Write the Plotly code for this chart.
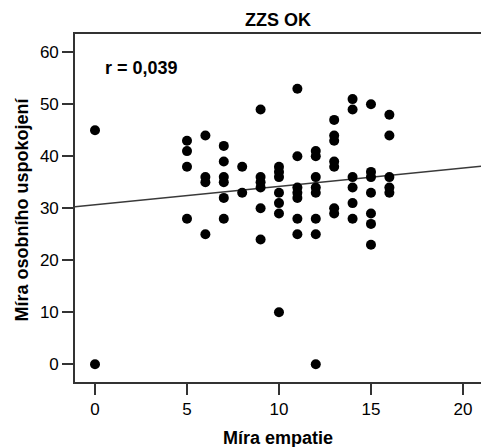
import plotly.graph_objects as go

# --- data ---
empathy = (
    [0, 0]
    + [5] * 4
    + [6] * 4
    + [7] * 6
    + [8] * 2
    + [9] * 6
    + [10] * 7
    + [11] * 7
    + [12] * 8
    + [13] * 7
    + [14] * 6
    + [15] * 7
    + [16] * 5
)
satisfaction = (
    [45, 0]
    + [43, 41, 38, 28]
    + [44, 36, 35, 25]
    + [42, 39, 36, 35, 32, 28]
    + [38, 33]
    + [49, 36, 35, 34, 30, 24]
    + [38, 37, 36, 33, 31, 29, 10]
    + [53, 40, 34, 33, 32, 28, 25]
    + [41, 40, 36, 34, 33, 28, 25, 0]
    + [47, 44, 43, 39, 38, 30, 29]
    + [51, 49, 36, 34, 31, 28]
    + [50, 37, 36, 33, 29, 27, 23]
    + [48, 44, 36, 34, 33]
)
fit_intercept = 30.67
fit_slope = 0.353
r_label = "r = 0,039"
x_ticks = [0, 5, 10, 15, 20]
y_ticks = [0, 10, 20, 30, 40, 50, 60]

X_RANGE = [-1.087, 20.98]
Y_RANGE = [-3.40, 63.52]

FONT = "Liberation Sans, Arial, sans-serif"
AXIS_COLOR = "#333333"

fig = go.Figure()

fit_x = X_RANGE
fit_y = [fit_intercept + fit_slope * v for v in fit_x]
fig.add_trace(go.Scatter(
    x=fit_x, y=fit_y, mode="lines",
    line=dict(color="#3a3a3a", width=1.6),
    hoverinfo="skip", showlegend=False,
))

fig.add_trace(go.Scatter(
    x=empathy, y=satisfaction, mode="markers",
    marker=dict(color="black", size=10, line=dict(width=0)),
    showlegend=False,
))

fig.update_layout(
    width=481, height=447,
    margin=dict(l=75, r=0, t=34, b=65),
    paper_bgcolor="white", plot_bgcolor="white",
    font=dict(family=FONT, color="black", size=17),
    title=dict(
        text="<b>ZZS OK</b>", x=278 / 481, xanchor="center", xref="container",
        y=1 - 20 / 447, yanchor="middle", yref="container",
        font=dict(family=FONT, size=18, color="black"),
    ),
    xaxis=dict(
        range=X_RANGE, tickvals=x_ticks, ticks="outside", ticklen=11,
        tickwidth=1.6, tickcolor=AXIS_COLOR, showline=True, linecolor=AXIS_COLOR,
        linewidth=1.6, mirror=True, showgrid=False, zeroline=False,
        tickfont=dict(family=FONT, size=17, color="black"),
    ),
    yaxis=dict(
        range=Y_RANGE, tickvals=y_ticks, ticks="outside", ticklen=11,
        tickwidth=1.6, tickcolor=AXIS_COLOR, showline=True, linecolor=AXIS_COLOR,
        linewidth=1.6, mirror=False, showgrid=False, zeroline=False,
        tickfont=dict(family=FONT, size=17, color="black"),
    ),
    annotations=[
        dict(text="<b>Míra empatie</b>", xref="paper", yref="paper",
             x=0.5, y=-0.161, xanchor="center", yanchor="middle",
             showarrow=False, font=dict(family=FONT, size=18, color="black")),
        dict(text="<b>Míra osobního uspokojení</b>", xref="paper", yref="paper",
             x=-0.13, y=0.496, xanchor="center", yanchor="middle", textangle=-90,
             showarrow=False, font=dict(family=FONT, size=18, color="black")),
        dict(text="<b>" + r_label + "</b>", xref="x", yref="y",
             x=0.43, y=56.9, xanchor="left", yanchor="middle",
             showarrow=False, font=dict(family=FONT, size=18, color="black")),
    ],
)

fig.write_html(
    "out.html",
    config={"displayModeBar": False},
    post_script="document.body.style.margin='0';document.body.style.padding='0';",
)
